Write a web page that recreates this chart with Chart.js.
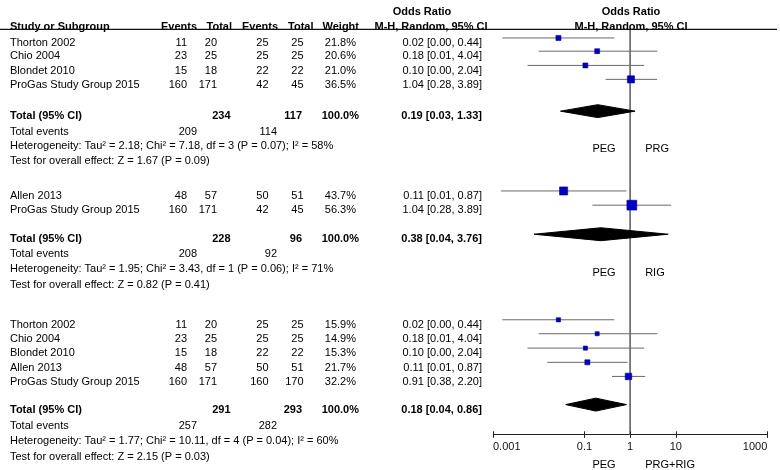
<!DOCTYPE html>
<html>
<head>
<meta charset="utf-8">
<script src="https://cdn.jsdelivr.net/npm/chart.js@4.4.1/dist/chart.umd.min.js"></script>
<style>
  html, body { margin: 0; padding: 0; background: #fff; }
</style>
</head>
<body>
<canvas id="forest" width="780" height="470"></canvas>
<script>
// --- Subgrupo 1: PEG vs PRG ---
const studies1 = ["Thorton 2002", "Chio 2004", "Blondet 2010", "ProGas Study Group 2015"];
const ev1a = [11, 23, 15, 160];
const n1a = [20, 25, 18, 171];
const ev1b = [25, 25, 22, 42];
const n1b = [25, 25, 22, 45];
const weight1 = ["21.8%", "20.6%", "21.0%", "36.5%"];
const ciText1 = ["0.02 [0.00, 0.44]", "0.18 [0.01, 4.04]", "0.10 [0.00, 2.04]", "1.04 [0.28, 3.89]"];
const or1 = [0.027, 0.19, 0.105, 1.04];
const lo1 = [0.0016, 0.01, 0.0057, 0.29];
const hi1 = [0.45, 3.95, 2.03, 3.89];
const pooled1 = [0.03, 0.195, 1.28];
const totals1 = [234, 117];
const totalEv1 = [209, 114];
const pooledText1 = "0.19 [0.03, 1.33]";
const het1 = "Heterogeneity: Tau\u00b2 = 2.18; Chi\u00b2 = 7.18, df = 3 (P = 0.07); I\u00b2 = 58%";
const test1 = "Test for overall effect: Z = 1.67 (P = 0.09)";
const sides1 = ["PEG", "PRG"];

// --- Subgrupo 2: PEG vs RIG ---
const studies2 = ["Allen 2013", "ProGas Study Group 2015"];
const ev2a = [48, 160];
const n2a = [57, 171];
const ev2b = [50, 42];
const n2b = [51, 45];
const weight2 = ["43.7%", "56.3%"];
const ciText2 = ["0.11 [0.01, 0.87]", "1.04 [0.28, 3.89]"];
const or2 = [0.035, 1.09];
const lo2 = [0.0015, 0.15];
const hi2 = [0.83, 7.9];
const pooled2 = [0.0079, 0.228, 6.8];
const totals2 = [228, 96];
const totalEv2 = [208, 92];
const pooledText2 = "0.38 [0.04, 3.76]";
const het2 = "Heterogeneity: Tau\u00b2 = 1.95; Chi\u00b2 = 3.43, df = 1 (P = 0.06); I\u00b2 = 71%";
const test2 = "Test for overall effect: Z = 0.82 (P = 0.41)";
const sides2 = ["PEG", "RIG"];

// --- Subgrupo 3: PEG vs PRG+RIG ---
const studies3 = ["Thorton 2002", "Chio 2004", "Blondet 2010", "Allen 2013", "ProGas Study Group 2015"];
const ev3a = [11, 23, 15, 48, 160];
const n3a = [20, 25, 18, 57, 171];
const ev3b = [25, 25, 22, 50, 160];
const n3b = [25, 25, 22, 51, 170];
const weight3 = ["15.9%", "14.9%", "15.3%", "21.7%", "32.2%"];
const ciText3 = ["0.02 [0.00, 0.44]", "0.18 [0.01, 4.04]", "0.10 [0.00, 2.04]", "0.11 [0.01, 0.87]", "0.91 [0.38, 2.20]"];
const or3 = [0.027, 0.19, 0.105, 0.116, 0.92];
const lo3 = [0.0016, 0.01, 0.0057, 0.0154, 0.40];
const hi3 = [0.45, 3.95, 2.03, 0.88, 2.13];
const pooled3 = [0.039, 0.177, 0.83];
const totals3 = [291, 293];
const totalEv3 = [257, 282];
const pooledText3 = "0.18 [0.04, 0.86]";
const het3 = "Heterogeneity: Tau\u00b2 = 1.77; Chi\u00b2 = 10.11, df = 4 (P = 0.04); I\u00b2 = 60%";
const test3 = "Test for overall effect: Z = 2.15 (P = 0.03)";
const sides3 = ["PEG", "PRG+RIG"];

// eje x
const xTicks = [0.001, 0.1, 1, 10, 1000];
const xTickLabels = ["0.001", "0.1", "1", "10", "1000"];

// --- layout (filas en unidades de la escala y) ---
const ROW_HEAD1 = 0.76, ROW_HEAD2 = 1.74, ROW_LINE = 2.01, AXIS_ROW = 30.24;
const MARK_SHIFT = 0.26;   // las marcas van un poco por encima del texto
const DIAMOND_H = 0.45;
const TEXT_DY = 1.5;       // ajuste vertical del texto (px)
const layout = [
  { studyRows: [2.90, 3.82, 4.81, 5.78], total: 7.99, events: 9.08, het: 10.07, test: 11.06, sides: 10.23 },
  { studyRows: [13.54, 14.53], total: 16.55, events: 17.59, het: 18.63, test: 19.72, sides: 18.91 },
  { studyRows: [22.50, 23.47, 24.47, 25.46, 26.44], total: 28.40, events: 29.51, het: 30.56, test: 31.65, sides: 32.22 }
];

const sections = [
  { studies: studies1, eva: ev1a, na: n1a, evb: ev1b, nb: n1b, w: weight1, ci: ciText1, or: or1, lo: lo1, hi: hi1,
    pooled: pooled1, totals: totals1, totalEv: totalEv1, pooledText: pooledText1, het: het1, test: test1, sides: sides1 },
  { studies: studies2, eva: ev2a, na: n2a, evb: ev2b, nb: n2b, w: weight2, ci: ciText2, or: or2, lo: lo2, hi: hi2,
    pooled: pooled2, totals: totals2, totalEv: totalEv2, pooledText: pooledText2, het: het2, test: test2, sides: sides2 },
  { studies: studies3, eva: ev3a, na: n3a, evb: ev3b, nb: n3b, w: weight3, ci: ciText3, or: or3, lo: lo3, hi: hi3,
    pooled: pooled3, totals: totals3, totalEv: totalEv3, pooledText: pooledText3, het: het3, test: test3, sides: sides3 }
];

const LINE_COLOR = "#6a6a6a";
const datasets = [];

// linea vertical en OR = 1
datasets.push({
  type: "line", data: [{ x: 1, y: ROW_LINE }, { x: 1, y: AXIS_ROW }],
  borderColor: LINE_COLOR, borderWidth: 1, pointRadius: 0, order: 10
});

const squares = [];
const squareSize = [];
sections.forEach((s, k) => {
  const L = layout[k];
  s.or.forEach((v, i) => {
    const r = L.studyRows[i] - MARK_SHIFT;
    // intervalo de confianza
    datasets.push({
      type: "line", data: [{ x: s.lo[i], y: r }, { x: s.hi[i], y: r }],
      borderColor: LINE_COLOR, borderWidth: 1, pointRadius: 0, order: 5
    });
    squares.push({ x: v, y: r });
    const side = 2 + parseFloat(s.w[i]) * 0.14;   // tamaño segun peso
    squareSize.push(side / Math.SQRT2);
  });
  // rombo del efecto combinado
  const r = L.total - MARK_SHIFT;
  const [lo, est, hi] = s.pooled;
  datasets.push({
    type: "line",
    data: [{ x: lo, y: r }, { x: est, y: r - DIAMOND_H }, { x: hi, y: r }, { x: est, y: r + DIAMOND_H }, { x: lo, y: r }],
    borderColor: "#000", backgroundColor: "#000", borderWidth: 1, pointRadius: 0, fill: "shape", tension: 0, order: 2
  });
});

datasets.push({
  type: "scatter", data: squares, pointStyle: "rect", pointRadius: squareSize,
  backgroundColor: "#0000c4", borderColor: "#00008a", borderWidth: 0.6, order: 1
});

const FONT = '"Liberation Sans", Arial, sans-serif';

const tablePlugin = {
  id: "forestTable",
  afterDraw(chart) {
    const ctx = chart.ctx;
    const ys = chart.scales.y;
    const xs = chart.scales.x;
    const yp = row => ys.getPixelForValue(row) + TEXT_DY;
    const put = (t, x, row, align, bold) => {
      ctx.font = (bold ? "bold 11px " : "11px ") + FONT;
      ctx.textAlign = align;
      ctx.fillText(String(t), x, yp(row));
    };
    ctx.save();
    ctx.fillStyle = "#000";
    ctx.textBaseline = "middle";

    // cabecera
    put("Odds Ratio", 422, ROW_HEAD1, "center", true);
    put("Odds Ratio", 631, ROW_HEAD1, "center", true);
    put("Study or Subgroup", 10, ROW_HEAD2, "left", true);
    put("Events", 197, ROW_HEAD2, "right", true);
    put("Total", 232, ROW_HEAD2, "right", true);
    put("Events", 278, ROW_HEAD2, "right", true);
    put("Total", 313.5, ROW_HEAD2, "right", true);
    put("Weight", 359, ROW_HEAD2, "right", true);
    put("M-H, Random, 95% CI", 431, ROW_HEAD2, "center", true);
    put("M-H, Random, 95% CI", 631, ROW_HEAD2, "center", true);

    ctx.strokeStyle = "#111";
    ctx.lineWidth = 1.3;
    ctx.beginPath();
    ctx.moveTo(0, ys.getPixelForValue(ROW_LINE) + 0.5);
    ctx.lineTo(777, ys.getPixelForValue(ROW_LINE) + 0.5);
    ctx.stroke();

    const x1 = xs.getPixelForValue(1);
    sections.forEach((s, k) => {
      const L = layout[k];
      s.studies.forEach((name, i) => {
        const r = L.studyRows[i];
        put(name, 10, r, "left");
        put(s.eva[i], 187, r, "right");
        put(s.na[i], 217, r, "right");
        put(s.evb[i], 268.5, r, "right");
        put(s.nb[i], 303.5, r, "right");
        put(s.w[i], 356, r, "right");
        put(s.ci[i], 482, r, "right");
      });
      put("Total (95% CI)", 10, L.total, "left", true);
      put(s.totals[0], 230.5, L.total, "right", true);
      put(s.totals[1], 302, L.total, "right", true);
      put("100.0%", 359, L.total, "right", true);
      put(s.pooledText, 482, L.total, "right", true);
      put("Total events", 10, L.events, "left");
      put(s.totalEv[0], 197, L.events, "right");
      put(s.totalEv[1], 277, L.events, "right");
      put(s.het, 10, L.het, "left");
      put(s.test, 10, L.test, "left");
      put(s.sides[0], x1 - 14.5, L.sides, "right");
      put(s.sides[1], x1 + 15, L.sides, "left");
    });

    // marcas del eje (arriba y abajo de la linea)
    const axisY = xs.top;
    ctx.strokeStyle = "#222";
    ctx.lineWidth = 1;
    ctx.beginPath();
    xTicks.forEach(v => {
      const x = Math.round(xs.getPixelForValue(v)) + 0.5;
      ctx.moveTo(x, axisY - 3.5);
      ctx.lineTo(x, axisY + 3);
    });
    ctx.stroke();
    ctx.restore();
  }
};

new Chart(document.getElementById("forest").getContext("2d"), {
  type: "scatter",
  data: { datasets },
  options: {
    responsive: false,
    animation: false,
    layout: { autoPadding: false, padding: { left: 493, right: 12.7, top: 0, bottom: 10 } },
    plugins: { legend: { display: false }, tooltip: { enabled: false } },
    scales: {
      x: {
        type: "logarithmic", min: 0.001, max: 1000,
        afterBuildTicks: scale => { scale.ticks = xTicks.map(v => ({ value: v })); },
        ticks: {
          autoSkip: false, maxRotation: 0, padding: 6, color: "#111", align: "inner",
          font: { family: FONT, size: 11 },
          callback: (v, i) => xTickLabels[i]
        },
        grid: { drawOnChartArea: false, drawTicks: false },
        border: { display: true, color: "#222", width: 1 }
      },
      y: { type: "linear", reverse: true, min: 0, max: AXIS_ROW, display: false }
    }
  },
  plugins: [tablePlugin]
});
</script>
</body>
</html>
